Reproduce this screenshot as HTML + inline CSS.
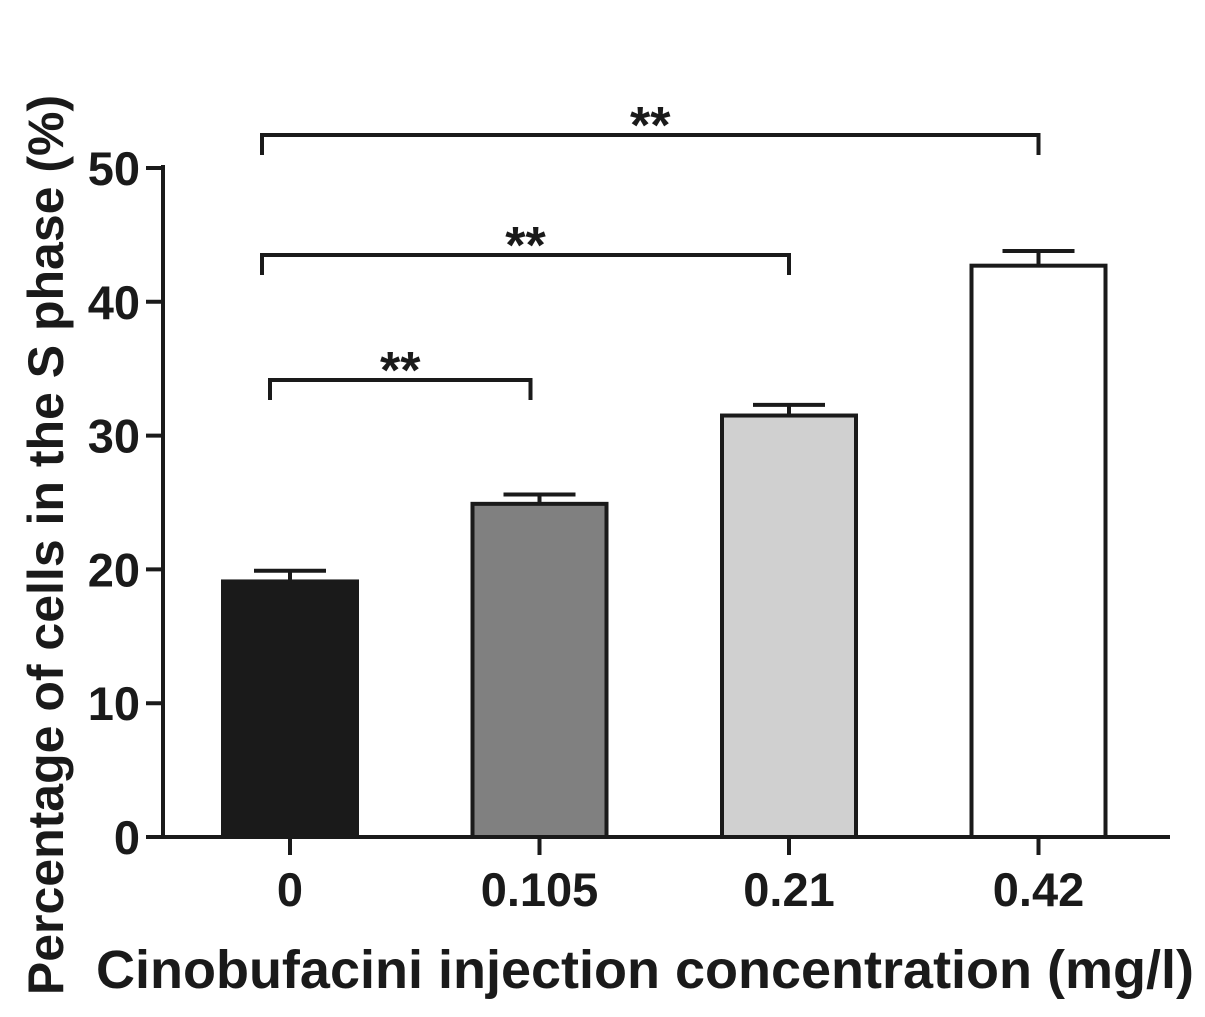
<!DOCTYPE html>
<html><head><meta charset="utf-8"><style>
body{margin:0;background:#fff;}
svg text{font-family:"Liberation Sans",Arial,sans-serif;font-weight:bold;fill:#1a1a1a;}
</style></head><body>
<svg id="chart" width="1205" height="1012" viewBox="0 0 1205 1012" xmlns="http://www.w3.org/2000/svg">
<g id="g"></g>
</svg>
<script>
const categories=["0","0.105","0.21","0.42"];
const values=[19.1,24.9,31.5,42.7];
const errors=[0.8,0.7,0.8,1.1];
const fills=["#1a1a1a","#808080","#d0d0d0","#ffffff"];
const yTicks=[0,10,20,30,40,50];
const sigPairs=[[0,1],[0,2],[0,3]];
const sigLabels=["**","**","**"];
const sigLevels=[400,275,155];

const NS="http://www.w3.org/2000/svg";
const g=document.getElementById('g');
const y=v=>837-v*13.38;
const x=i=>290+i*249.5;
const bw=134;
function el(t,a,p){const e=document.createElementNS(NS,t);for(const k in a)e.setAttribute(k,a[k]);(p||g).appendChild(e);return e;}

let e=el('line',{x1:163,y1:165,x2:163,y2:839,stroke:'#1a1a1a','stroke-width':4});


e=el('line',{x1:161,y1:837,x2:1170,y2:837,stroke:'#1a1a1a','stroke-width':4});


yTicks.forEach(t=>{
  el('line',{x1:146,y1:y(t),x2:163,y2:y(t),stroke:'#1a1a1a','stroke-width':4});
  const tx=el('text',{x:140,y:y(t)+17,'text-anchor':'end','font-size':47});
  tx.textContent=t;
  
  
});
categories.forEach((c,i)=>{
  const cx=x(i);
  el('line',{x1:cx,y1:837,x2:cx,y2:855,stroke:'#1a1a1a','stroke-width':4});
  const top=y(values[i]+errors[i]);
  el('line',{x1:cx,y1:y(values[i]),x2:cx,y2:top,stroke:'#1a1a1a','stroke-width':4});
  el('line',{x1:cx-36,y1:top,x2:cx+36,y2:top,stroke:'#1a1a1a','stroke-width':4});
  const r=el('rect',{x:cx-bw/2,y:y(values[i]),width:bw,height:837-y(values[i]),fill:fills[i],stroke:'#1a1a1a','stroke-width':4});
  
  
  const tx=el('text',{x:cx,y:906,'text-anchor':'middle','font-size':47});
  tx.textContent=c;
  
  
});
sigPairs.forEach((p,k)=>{
  const lv=sigLevels[k];
  const x1=x(p[0])-(k==0?20:28), x2=x(p[1])-(k==0?9:0);
  const pl=el('polyline',{points:`${x1},${lv} ${x1},${lv-20} ${x2},${lv-20} ${x2},${lv}`,fill:'none',stroke:'#1a1a1a','stroke-width':4});
  
  
  const tx=el('text',{x:(x1+x2)/2,y:lv-12,'text-anchor':'middle','font-size':52});
  tx.textContent=sigLabels[k];
  
  
});
let t=el('text',{x:645,y:988,'text-anchor':'middle','font-size':54});
t.textContent="Cinobufacini injection concentration (mg/l)";


t=el('text',{x:0,y:0,'text-anchor':'middle','font-size':50,transform:'translate(63,545) rotate(-90)'});
t.textContent="Percentage of cells in the S phase (%)";


</script>
</body></html>
